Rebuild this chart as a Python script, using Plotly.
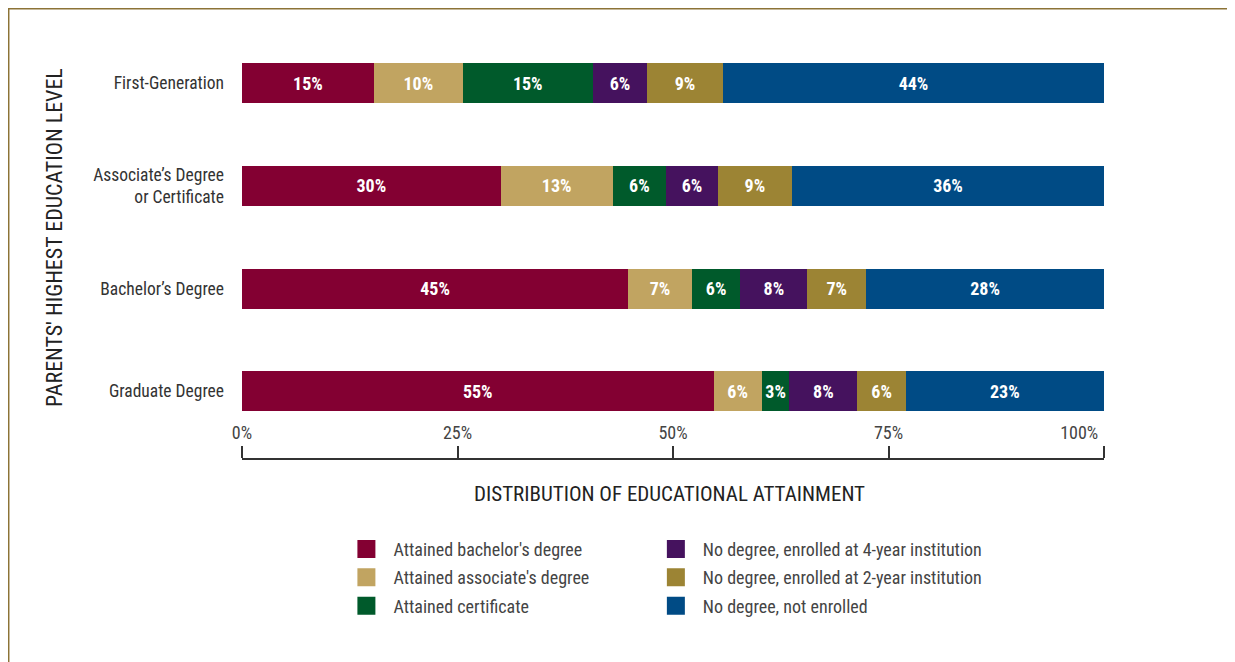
import plotly.graph_objects as go

categories = ["First-Generation", "Associate’s Degree<br>or Certificate",
              "Bachelor’s Degree", "Graduate Degree"]

series_names = ["Attained bachelor's degree", "Attained associate's degree",
                "Attained certificate", "No degree, enrolled at 4-year institution",
                "No degree, enrolled at 2-year institution", "No degree, not enrolled"]

bachelor = [15.3, 30.0, 44.8, 54.7]
associate = [10.3, 13.0, 7.4, 5.6]
certificate = [15.1, 6.2, 5.6, 3.2]
enrolled_4yr = [6.3, 6.0, 7.8, 7.9]
enrolled_2yr = [8.8, 8.6, 6.8, 5.6]
not_enrolled = [44.2, 36.2, 27.6, 23.0]

tick_vals = [0, 25, 50, 75, 100]
tick_text = ["0%", "25%", "50%", "75%", "100%" + "\u00a0" * 12]

colors = ["#830032", "#C1A461", "#005A2B", "#45125E", "#9C8434", "#004B85"]
series_values = [bachelor, associate, certificate, enrolled_4yr, enrolled_2yr, not_enrolled]

FONT = "Liberation Sans Narrow, Roboto Condensed, Arial Narrow, Roboto, sans-serif"

fig = go.Figure()
for i, (name, vals, col) in enumerate(zip(series_names, series_values, colors)):
    fig.add_trace(go.Bar(
        y=categories, x=vals, orientation="h", name=name,
        marker=dict(color=col, line=dict(width=0)),
        width=0.39,
        text=[f"{v:.0f}%" for v in vals],
        textposition="inside", insidetextanchor="middle", textangle=0,
        constraintext="none",
        insidetextfont=dict(color="white", size=18, family=FONT, weight="bold"),
        showlegend=False, legendgroup=f"g{i}", hoverinfo="x+name",
    ))

# legend entries (two columns)
for i, (name, col) in enumerate(zip(series_names, colors)):
    fig.add_trace(go.Scatter(
        x=[None], y=[None], mode="markers", name=name,
        marker=dict(symbol="square", size=16, color=col, line=dict(color=col, width=2)),
        legendgroup=f"g{i}", showlegend=True,
        legend="legend" if i < 3 else "legend2",
    ))

border = "#8C7336"
fig.update_layout(
    width=1235, height=662,
    margin=dict(l=234, r=139, t=24, b=211, pad=0, autoexpand=False),
    barmode="stack",
    paper_bgcolor="white", plot_bgcolor="white",
    font=dict(family=FONT, color="#333333", size=18),
    xaxis=dict(range=[0, 100], tickvals=tick_vals, ticktext=tick_text,
               side="top", anchor="free", position=0,
               showgrid=False, zeroline=False, showline=True,
               linecolor="#333333", linewidth=2,
               ticks="outside", ticklen=12, tickwidth=2, tickcolor="#333333",
               ticklabelstandoff=0,
               tickfont=dict(size=18, color="#444444", family=FONT), fixedrange=True),
    yaxis=dict(categoryorder="array", categoryarray=categories[::-1],
               range=[-0.66, 3.5], showgrid=False, zeroline=False, showline=False,
               ticks="", ticklabelstandoff=17,
               tickfont=dict(size=17.5, color="#333333", family=FONT), fixedrange=True),
    legend=dict(x=0.113, y=-0.168, xanchor="left", yanchor="top",
                orientation="v", itemwidth=44, tracegroupgap=2,
                font=dict(size=18, color="#444444", family=FONT),
                bgcolor="rgba(0,0,0,0)"),
    legend2=dict(x=0.472, y=-0.168, xanchor="left", yanchor="top",
                 orientation="v", itemwidth=44, tracegroupgap=2,
                 font=dict(size=18, color="#444444", family=FONT),
                 bgcolor="rgba(0,0,0,0)"),
    annotations=[
        dict(text="DISTRIBUTION OF EDUCATIONAL ATTAINMENT", xref="paper", yref="paper",
             x=0.4965, y=-0.082, xanchor="center", yanchor="middle", showarrow=False,
             font=dict(size=21, color="#222222", family=FONT)),
        dict(text="PARENTS' HIGHEST EDUCATION LEVEL", xref="paper", yref="paper",
             x=-0.217, y=0.52, xanchor="center", yanchor="middle", showarrow=False,
             textangle=-90, font=dict(size=22, color="#222222", family=FONT)),
    ],
    shapes=[
        dict(type="line", xref="paper", yref="paper", x0=-0.2715, x1=1.2,
             y0=1.0562, y1=1.0562, line=dict(color=border, width=3)),
        dict(type="line", xref="paper", yref="paper", x0=-0.2715, x1=-0.2715,
             y0=1.0562, y1=-0.6, line=dict(color=border, width=3)),
    ],
)

fig.write_html("out.html")
